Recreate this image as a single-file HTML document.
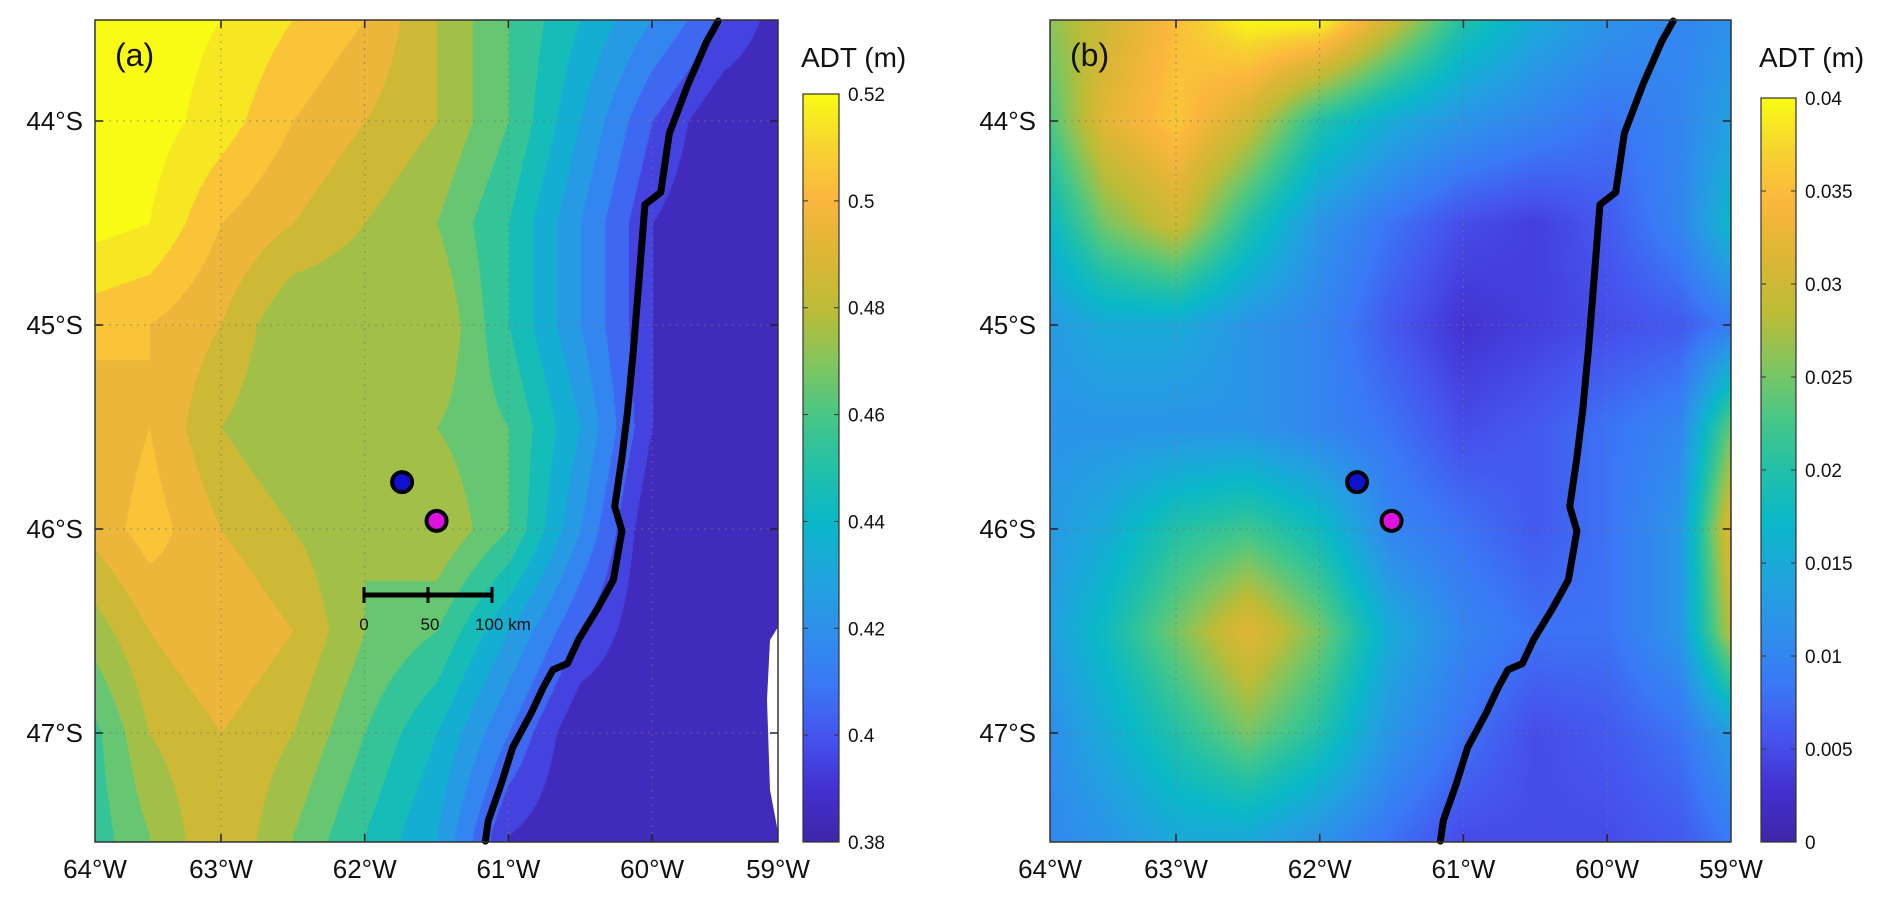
<!DOCTYPE html>
<html><head><meta charset="utf-8">
<style>
body{margin:0;background:#fff;width:1892px;height:900px;overflow:hidden;position:relative;font-family:"Liberation Sans",sans-serif;}
canvas{position:absolute;}
svg{position:absolute;left:0;top:0;}
</style></head>
<body>
<canvas id="ca" width="683" height="822" style="left:95px;top:20px"></canvas>
<canvas id="cb" width="681" height="822" style="left:1050px;top:20px"></canvas>
<svg id="ov" width="1892" height="900"></svg>
<script>
// ---- data ----
const gridLons=[-64,-63.5,-63,-62.5,-62,-61.5,-61,-60.5,-60,-59.5,-59];
const gridLats=[43.5,44,44.5,45,45.5,46,46.5,47,47.5];
const adtA=[
[0.525,0.525,0.52,0.51,0.50,0.48,0.46,0.44,0.42,0.40,0.38],
[0.525,0.525,0.515,0.50,0.49,0.48,0.46,0.43,0.40,0.38,0.38],
[0.525,0.52,0.50,0.49,0.48,0.47,0.45,0.42,0.39,0.38,0.38],
[0.505,0.50,0.49,0.47,0.47,0.48,0.45,0.42,0.39,0.38,0.38],
[0.49,0.50,0.48,0.47,0.47,0.47,0.46,0.43,0.39,0.38,0.38],
[0.49,0.505,0.49,0.48,0.47,0.48,0.46,0.42,0.38,0.38,0.38],
[0.47,0.49,0.50,0.49,0.47,0.46,0.43,0.40,0.38,0.38,0.38],
[0.45,0.48,0.49,0.48,0.46,0.44,0.41,0.38,0.38,0.38,0.38],
[0.45,0.47,0.49,0.47,0.45,0.43,0.39,0.38,0.38,0.38,0.38]];
const adtB=[
[0.025,0.03,0.035,0.04,0.04,0.03,0.02,0.015,0.012,0.01,0.012],
[0.02,0.032,0.036,0.03,0.02,0.015,0.012,0.01,0.008,0.01,0.015],
[0.015,0.025,0.03,0.02,0.012,0.008,0.005,0.004,0.006,0.01,0.02],
[0.012,0.015,0.015,0.012,0.01,0.006,0.003,0.004,0.005,0.006,0.01],
[0.012,0.012,0.012,0.012,0.01,0.008,0.005,0.006,0.008,0.01,0.03],
[0.012,0.015,0.02,0.022,0.018,0.01,0.008,0.006,0.008,0.012,0.04],
[0.012,0.018,0.025,0.032,0.025,0.015,0.01,0.008,0.008,0.012,0.035],
[0.01,0.015,0.02,0.025,0.02,0.012,0.008,0.005,0.006,0.008,0.015],
[0.01,0.012,0.015,0.015,0.012,0.008,0.005,0.005,0.005,0.006,0.01]];
const coastLon=[-59.54,-59.62,-59.75,-59.88,-59.94,-60.05,-60.09,-60.13,-60.17,-60.21,-60.26,-60.21,-60.27,-60.38,-60.51,-60.59,-60.69,-60.76,-60.84,-60.97,-61.05,-61.14,-61.16];
const coastLat=[43.51,43.61,43.82,44.06,44.35,44.41,44.77,45.12,45.42,45.65,45.89,46.01,46.25,46.39,46.54,46.66,46.69,46.78,46.90,47.07,47.25,47.43,47.53];
const stationLon=[-61.74,-61.50];
const stationLat=[45.77,45.96];
const stationColor=["#1010d0","#e010e0"];
const xTickLabels=["64°W","63°W","62°W","61°W","60°W","59°W"];
const yTickLats=[44,45,46,47];
const cbTicksA=[0.38,0.40,0.42,0.44,0.46,0.48,0.50,0.52];
const cbTicksB=[0,0.005,0.01,0.015,0.02,0.025,0.03,0.035,0.04];

// ---- geometry ----
const panels=[{x0:95,x1:778,off:0,canvas:'ca',data:adtA,min:0.38,max:0.52,q:0.01,cbx:803,cbw:36,cbtop:94,ticks:cbTicksA,label:'(a)',ylx:83},
              {x0:1050,x1:1731,off:955,canvas:'cb',data:adtB,min:0,max:0.04,q:0,cbx:1761,cbw:35,cbtop:98,ticks:cbTicksB,label:'(b)',ylx:1036}];
const Y0=20,Y1=842;
function xs(lon,p){return p.off+221+(lon+63)*143.7;}
function ys(lat){return 121+(lat-44)*204;}
function lonOf(px,p){return -63+(px-p.off-221)/143.7;}
function latOf(py){return 44+(py-121)/204;}
const stops=[[0,62,38,168],[0.07,67,48,208],[0.14,70,84,238],[0.21,58,120,246],[0.29,45,146,234],[0.36,30,166,220],[0.43,10,184,200],[0.5,34,192,168],[0.57,72,199,134],[0.64,130,197,94],[0.71,188,188,54],[0.79,223,182,54],[0.86,251,182,62],[0.93,246,212,48],[1,249,251,20]];
function parula(t){t=Math.max(0,Math.min(1,t));for(let i=1;i<stops.length;i++){if(t<=stops[i][0]){const a=stops[i-1],b=stops[i],f=(t-a[0])/(b[0]-a[0]);return[a[1]+f*(b[1]-a[1]),a[2]+f*(b[2]-a[2]),a[3]+f*(b[3]-a[3])];}}return stops[stops.length-1].slice(1);}
function sample(d,lon,lat){
  let fx=(lon-gridLons[0])/0.5, fy=(lat-gridLats[0])/0.5;
  fx=Math.max(0,Math.min(gridLons.length-1.0001,fx)); fy=Math.max(0,Math.min(gridLats.length-1.0001,fy));
  const i=Math.floor(fx),j=Math.floor(fy),u=fx-i,v=fy-j;
  return d[j][i]*(1-u)*(1-v)+d[j][i+1]*u*(1-v)+d[j+1][i]*(1-u)*v+d[j+1][i+1]*u*v;
}
panels.forEach(p=>{
  const c=document.getElementById(p.canvas),ctx=c.getContext('2d');
  const W=c.width,H=c.height,img=ctx.createImageData(W,H);
  for(let y=0;y<H;y++){const lat=latOf(Y0+y);
    for(let x=0;x<W;x++){const lon=lonOf(p.x0+x,p);
      let v=sample(p.data,lon,lat);
      if(p.q){v=Math.floor((v-p.min)/p.q+1e-6)*p.q+p.min+p.q/2;}
      const col=parula((v-p.min)/(p.max-p.min));const k=(y*W+x)*4;
      img.data[k]=col[0];img.data[k+1]=col[1];img.data[k+2]=col[2];img.data[k+3]=255;}}
  ctx.putImageData(img,0,0);
});
// ---- overlay ----
const NS='http://www.w3.org/2000/svg',svg=document.getElementById('ov');
function el(t,a,txt){const e=document.createElementNS(NS,t);for(const k in a)e.setAttribute(k,a[k]);if(txt!==undefined)e.textContent=txt;svg.appendChild(e);return e;}
let wp=el('polygon',{points:'778,627 770,640 767,700 770,790 778,832',fill:'#fff'});


panels.forEach((p,pi)=>{
  const tickXs=[p.x0,xs(-63,p),xs(-62,p),xs(-61,p),xs(-60,p),p.x1];
  tickXs.slice(1,5).forEach(x=>{const g=el('line',{x1:x,y1:Y0,x2:x,y2:Y1,stroke:'#777','stroke-width':1,'stroke-dasharray':'2,5',opacity:0.7});
    
    
    el('line',{x1:x,y1:Y1,x2:x,y2:Y1-8,stroke:'#222','stroke-width':1.5});el('line',{x1:x,y1:Y0,x2:x,y2:Y0+8,stroke:'#222','stroke-width':1.5});});
  yTickLats.forEach(lat=>{const y=ys(lat);const g=el('line',{x1:p.x0,y1:y,x2:p.x1,y2:y,stroke:'#777','stroke-width':1,'stroke-dasharray':'2,5',opacity:0.7});
    
    
    el('line',{x1:p.x0,y1:y,x2:p.x0+8,y2:y,stroke:'#222','stroke-width':1.5});el('line',{x1:p.x1,y1:y,x2:p.x1-8,y2:y,stroke:'#222','stroke-width':1.5});
    const t=el('text',{x:p.ylx,y:y+9,'text-anchor':'end','font-size':26,fill:'#111'},lat+'°S');
    
    });
  xTickLabels.forEach((s,i)=>{const t=el('text',{x:tickXs[i],y:878,'text-anchor':'middle','font-size':26,fill:'#111'},s);
    
    });
  const pts=coastLon.map((lo,i)=>xs(lo,p)+','+ys(coastLat[i])).join(' ');
  const cl=el('polyline',{points:pts,fill:'none',stroke:'#000','stroke-width':7,'stroke-linejoin':'round','stroke-linecap':'round'});
  
  
  const fr=el('rect',{x:p.x0,y:Y0,width:p.x1-p.x0,height:Y1-Y0,fill:'none',stroke:'#333','stroke-width':1.5});
  
  
  stationLon.forEach((lo,i)=>{const s=el('circle',{cx:xs(lo,p),cy:ys(stationLat[i]),r:10,fill:stationColor[i],stroke:'#000','stroke-width':4});
    
    });
  const pl=el('text',{x:p.x0+20,y:66,'font-size':32,fill:'#111'},p.label);
  
  
  const gid='g'+pi;const defs=el('defs',{});const lg=document.createElementNS(NS,'linearGradient');
  lg.setAttribute('id',gid);lg.setAttribute('x1',0);lg.setAttribute('y1',1);lg.setAttribute('x2',0);lg.setAttribute('y2',0);
  stops.forEach(s=>{const st=document.createElementNS(NS,'stop');st.setAttribute('offset',s[0]);st.setAttribute('stop-color','rgb('+s[1]+','+s[2]+','+s[3]+')');lg.appendChild(st);});
  defs.appendChild(lg);
  const cb=el('rect',{x:p.cbx,y:p.cbtop,width:p.cbw,height:Y1-p.cbtop,fill:'url(#'+gid+')',stroke:'#333','stroke-width':1.2});
  
  
  p.ticks.forEach(v=>{const y=Y1-(v-p.min)/(p.max-p.min)*(Y1-p.cbtop);
    el('line',{x1:p.cbx,y1:y,x2:p.cbx+5,y2:y,stroke:'#333'});el('line',{x1:p.cbx+p.cbw,y1:y,x2:p.cbx+p.cbw-5,y2:y,stroke:'#333'});
    const t=el('text',{x:p.cbx+p.cbw+9,y:y+7,'font-size':19,fill:'#111'},String(v));
    
    });
  const ct=el('text',{x:p.cbx-2,y:67,'font-size':28,fill:'#111'},'ADT (m)');
  
  
});
const sb=el('g',{});


el('line',{x1:364,y1:595,x2:492,y2:595,stroke:'#000','stroke-width':5});
[364,428,492].forEach(x=>el('line',{x1:x,y1:587,x2:x,y2:603,stroke:'#000','stroke-width':3}));
el('text',{x:364,y:630,'text-anchor':'middle','font-size':17,fill:'#111'},'0');
el('text',{x:430,y:630,'text-anchor':'middle','font-size':17,fill:'#111'},'50');
el('text',{x:475,y:630,'font-size':17,fill:'#111'},'100 km');
</script>
</body></html>
